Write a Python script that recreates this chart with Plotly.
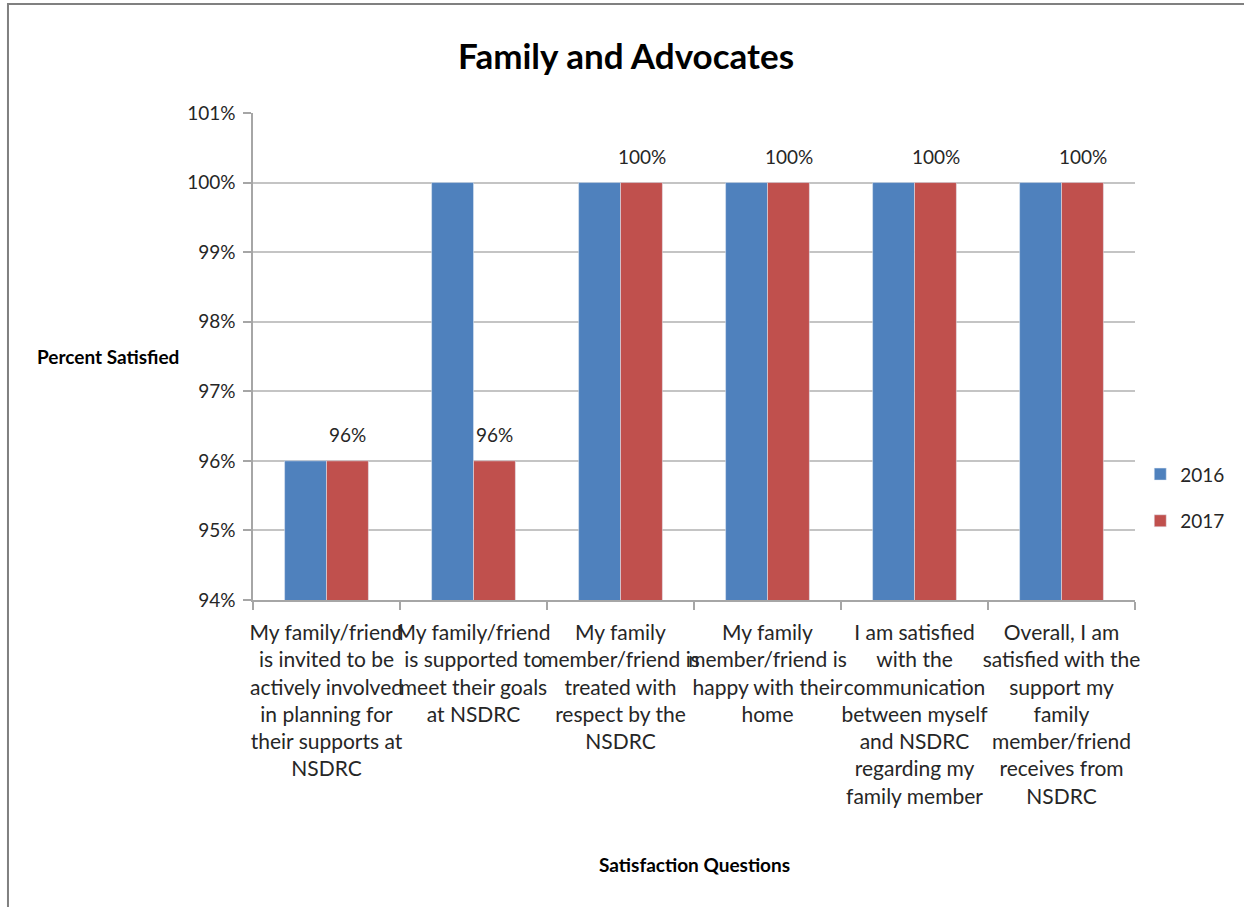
import plotly.graph_objects as go

categories = [
    "My family/friend<br>is invited to be<br>actively involved<br>in planning for<br>their supports at<br>NSDRC",
    "My family/friend<br>is supported to<br>meet their goals<br>at NSDRC",
    "My family<br>member/friend is<br>treated with<br>respect by the<br>NSDRC",
    "My family<br>member/friend is<br>happy with their<br>home",
    "I am satisfied<br>with the<br>communication<br>between myself<br>and NSDRC<br>regarding my<br>family member",
    "Overall, I am<br>satisfied with the<br>support my<br>family<br>member/friend<br>receives from<br>NSDRC",
]
v2016 = [0.96, 1.00, 1.00, 1.00, 1.00, 1.00]
v2017 = [0.96, 0.96, 1.00, 1.00, 1.00, 1.00]
y_ticks = [0.94, 0.95, 0.96, 0.97, 0.98, 0.99, 1.00, 1.01]

FONT = "Lato, Carlito, Calibri, Liberation Sans, sans-serif"
TXT = "#262626"

fig = go.Figure()
fig.add_trace(go.Bar(x=categories, y=v2016, name="2016", marker_color="#4F81BD",
                     legendgroup="a"))
fig.add_trace(go.Bar(x=categories, y=v2017, name="2017", marker_color="#C0504D",
                     legendgroup="b"))

# data labels for 2017
for c, v in zip(categories, v2017):
    fig.add_annotation(x=c, y=v, xref="x", yref="y", text=f"{v:.0%}",
                       showarrow=False, xshift=21, yshift=26, yanchor="middle",
                       font=dict(family=FONT, size=19, color=TXT))

# axis titles
fig.add_annotation(x=-0.1644, y=0.499, xref="paper", yref="paper",
                   text="<b>Percent Satisfied</b>", showarrow=False,
                   xanchor="center", yanchor="middle",
                   font=dict(family=FONT, size=19, color="#000000"))
fig.add_annotation(x=0.5, y=-0.544, xref="paper", yref="paper",
                   text="<b>Satisfaction Questions</b>", showarrow=False,
                   xanchor="center", yanchor="middle",
                   font=dict(family=FONT, size=19, color="#000000"))

# chart border
fig.add_shape(type="rect", xref="paper", yref="paper", x0=-0.2778, y0=-1.0,
              x1=1.3, y1=1.2238, line=dict(color="#808080", width=2),
              fillcolor="rgba(0,0,0,0)", layer="above")

fig.update_layout(
    width=1244, height=907, autosize=False,
    margin=dict(l=253, r=109, t=113, b=307),
    paper_bgcolor="white", plot_bgcolor="white",
    barmode="group", bargap=0.43, bargroupgap=0,
    title=dict(text="<b>Family and Advocates</b>", x=626 / 1244, xref="container",
               xanchor="center", y=1 - 57 / 907, yanchor="middle",
               font=dict(family=FONT, size=35, color="#000000")),
    font=dict(family=FONT, size=21, color=TXT),
    legend=dict(x=1.108, xanchor="right", y=0.21, yanchor="middle",
                traceorder="grouped", tracegroupgap=19,
                font=dict(family=FONT, size=19, color=TXT),
                itemwidth=30, bgcolor="rgba(0,0,0,0)"),
    xaxis=dict(showline=True, linecolor="#a6a6a6", linewidth=1.5,
               ticks="outside", tickson="boundaries", ticklen=8,
               tickcolor="#a6a6a6", tickwidth=1.5, tickangle=0,
               ticklabelstandoff=13, automargin=False,
               tickfont=dict(family=FONT, size=21, color=TXT)),
    yaxis=dict(range=[0.94, 1.01], tickvals=y_ticks, tickformat=".0%",
               showgrid=True, gridcolor="#c4c4c4", gridwidth=2,
               showline=True, linecolor="#a6a6a6", linewidth=1.5,
               ticks="outside", ticklen=8, tickcolor="#a6a6a6", tickwidth=1.5,
               zeroline=False, ticklabelstandoff=4, automargin=False,
               tickfont=dict(family=FONT, size=19, color=TXT)),
)

fig.write_html("out.html", config={"displayModeBar": False},
               post_script="document.body.style.margin='0';document.body.style.overflow='hidden';")
